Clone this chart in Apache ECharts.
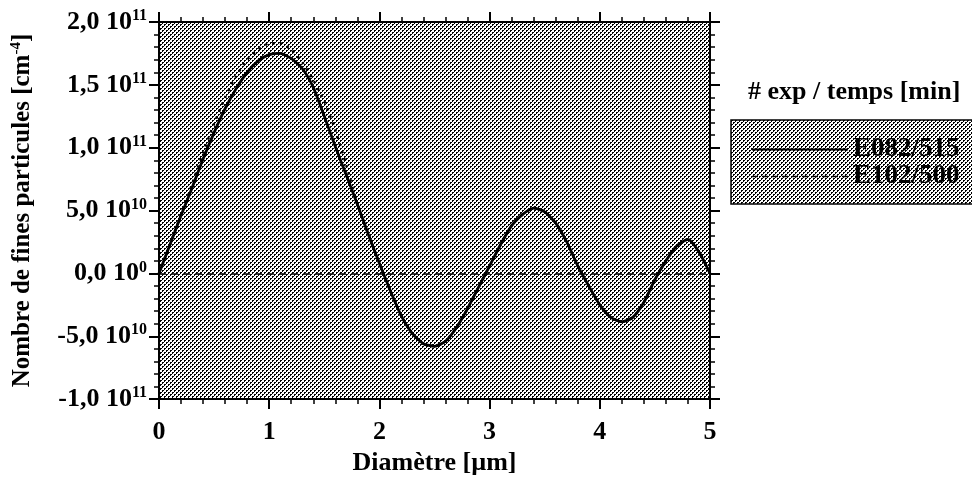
<!DOCTYPE html>
<html>
<head>
<meta charset="utf-8">
<script src="https://cdn.jsdelivr.net/npm/echarts@6/dist/echarts.min.js"></script>
<style>
html,body{margin:0;padding:0;background:#fff;}
#chart{width:972px;height:481px;}
</style>
</head>
<body>
<div id="chart"></div>
<script>
// Diamètre [µm]
const diam = [0,0.1,0.2,0.3,0.4,0.5,0.6,0.7,0.8,0.9,1.0,1.1,1.2,1.3,1.4,1.5,1.6,1.7,1.8,1.9,2.0,2.1,2.2,2.3,2.4,2.5,2.6,2.7,2.8,2.9,3.0,3.1,3.2,3.3,3.4,3.5,3.6,3.7,3.8,3.9,4.0,4.1,4.2,4.3,4.4,4.5,4.6,4.7,4.8,4.9,5.0];
// values in units of 1e10 cm^-4
const e082_515 = [0,2.3,4.6,6.8,9.1,11.2,13.1,14.7,16.0,16.9,17.4,17.5,17.1,16.3,14.8,12.5,10.1,7.8,5.5,3.1,0.8,-1.4,-3.4,-4.8,-5.6,-5.8,-5.4,-4.3,-2.8,-1.1,0.6,2.3,3.8,4.7,5.2,4.9,4.0,2.5,0.6,-1.0,-2.5,-3.5,-3.85,-3.5,-2.3,-0.5,1.0,2.2,2.7,1.7,0];
const e102_500 = [0,2.3,4.7,7.1,9.6,11.9,14.0,15.7,17.0,17.8,18.3,18.3,17.8,16.8,15.4,13.7,11.4,8.6,5.5,3.1,0.8,-1.4,-3.4,-4.8,-5.6,-5.8,-5.4,-4.3,-2.8,-1.1,0.6,2.3,3.8,4.7,5.2,4.9,4.0,2.5,0.6,-1.0,-2.5,-3.5,-3.85,-3.5,-2.3,-0.5,1.0,2.2,2.7,1.7,0];
const seriesNames = ['E082/515','E102/500'];
// y tick labels (mantissa, exponent), from -1e11 to 2e11 step 5e10
const yMantissa = ['-1,0','-5,0','0,0','5,0','1,0','1,5','2,0'];
const yExponent = ['11','10','0','10','11','11','11'];
const xTicks = ['0','1','2','3','4','5'];

function makePattern(){
  const c = document.createElement('canvas');
  c.width = 4; c.height = 4;
  const g = c.getContext('2d');
  g.fillStyle = '#ffffff'; g.fillRect(0,0,4,4);
  g.fillStyle = '#000000';
  [[0,0],[1,0],[0,1],[2,2],[3,2],[2,3]].forEach(p => g.fillRect(p[0],p[1],1,1));
  return c;
}
const pat = {image: makePattern(), repeat: 'repeat'};
const FF = '"Liberation Serif", "DejaVu Serif", serif';

const chart = echarts.init(document.getElementById('chart'), null, {renderer:'canvas'});

const axisCommon = {
  axisLine: {show: true, onZero: false, lineStyle: {color: '#000', width: 2}},
  axisTick: {show: true, inside: false, length: 10, lineStyle: {color: '#000', width: 2}},
  minorTick: {show: true, splitNumber: 5, length: 5, lineStyle: {color: '#000', width: 1.5}},
  splitLine: {show: false}
};

const option = {
  backgroundColor: '#fff',
  animation: false,
  title: {
    text: '# exp / temps [min]',
    left: 748, top: 79, padding: 0,
    textStyle: {fontFamily: FF, fontSize: 26, fontWeight: 'bold', color: '#000'}
  },
  legend: {
    orient: 'vertical',
    left: 731, top: 120,
    padding: [16, 40, 14, 20],
    itemGap: 0,
    itemWidth: 96,
    itemHeight: 14,
    backgroundColor: pat,
    borderColor: '#000',
    borderWidth: 1.5,
    itemStyle: {opacity: 0, borderWidth: 0},
    textStyle: {fontFamily: FF, fontSize: 27, fontWeight: 'bold', color: '#000', lineHeight: 27},
    data: [
      {name: seriesNames[0], lineStyle: {type: 'solid', width: 2}},
      {name: seriesNames[1], lineStyle: {type: [6,4], width: 1.3}}
    ]
  },
  grid: {
    left: 159, right: 262, top: 22, bottom: 80,
    show: true, backgroundColor: pat, borderWidth: 0
  },
  xAxis: [
    Object.assign({}, axisCommon, {
      type: 'value', position: 'bottom', min: 0, max: 5, interval: 1,
      axisLabel: {margin: 20, fontFamily: FF, fontSize: 26, fontWeight: 'bold', color: '#000',
        formatter: v => xTicks[Math.round(v)]},
      name: 'Diamètre [µm]', nameLocation: 'middle', nameGap: 46,
      nameTextStyle: {fontFamily: FF, fontSize: 26, fontWeight: 'bold', color: '#000'}
    }),
    Object.assign({}, axisCommon, {
      type: 'value', position: 'top', min: 0, max: 5, interval: 1,
      axisLabel: {show: false}
    })
  ],
  yAxis: [
    Object.assign({}, axisCommon, {
      type: 'value', position: 'left', min: -10, max: 20, interval: 5,
      axisLabel: {margin: 12, fontFamily: FF, fontSize: 26, fontWeight: 'bold', color: '#000',
        formatter: v => { const i = Math.round((v + 10) / 5); return yMantissa[i] + ' 10{s|' + yExponent[i] + '}'; },
        rich: {s: {fontFamily: FF, fontSize: 16, fontWeight: 'bold', color: '#000', padding: [0,0,12,0]}}
      },
      name: 'Nombre de fines particules [cm{s|-4}]', nameLocation: 'middle', nameGap: 123,
      nameTextStyle: {fontFamily: FF, fontSize: 25, fontWeight: 'bold', color: '#000',
        rich: {s: {fontFamily: FF, fontSize: 15, fontWeight: 'bold', color: '#000', padding: [0,0,12,0]}}}
    }),
    Object.assign({}, axisCommon, {
      type: 'value', position: 'right', min: -10, max: 20, interval: 5,
      axisLabel: {show: false}
    })
  ],
  series: [
    {
      name: seriesNames[1], type: 'line', xAxisIndex: 0, yAxisIndex: 0,
      data: diam.map((x,i) => [x, e102_500[i]]),
      symbol: 'none', smooth: 0.2, z: 2,
      lineStyle: {color: '#000', width: 2.5, type: [2.5,5]},
      itemStyle: {color: '#000'}
    },
    {
      name: seriesNames[0], type: 'line', xAxisIndex: 0, yAxisIndex: 0,
      data: diam.map((x,i) => [x, e082_515[i]]),
      symbol: 'none', smooth: 0.2, z: 3,
      lineStyle: {color: '#000', width: 2.8, type: 'solid'},
      itemStyle: {color: '#000'},
      markLine: {
        silent: true, symbol: 'none', label: {show: false},
        lineStyle: {color: '#000', width: 1.5, type: [7,5]},
        data: [{yAxis: 0}]
      }
    }
  ]
};
chart.setOption(option);
</script>
</body>
</html>
